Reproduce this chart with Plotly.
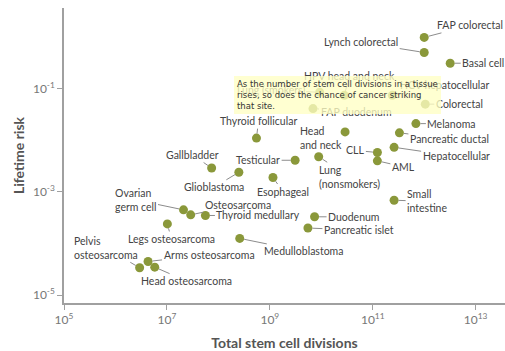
import math
import plotly.graph_objects as go

# ---- data ----
cancer_types = [
    "FAP colorectal", "Lynch colorectal", "Basal cell", "HCV hepatocellular", "Colorectal",
    "HPV head and neck", "Lung (smokers)", "FAP duodenum", "Melanoma", "Thyroid follicular",
    "Head and neck", "Pancreatic ductal", "Hepatocellular", "CLL", "AML",
    "Testicular", "Lung (nonsmokers)", "Glioblastoma", "Esophageal", "Gallbladder",
    "Small intestine", "Duodenum", "Pancreatic islet", "Medulloblastoma", "Ovarian germ cell",
    "Osteosarcoma", "Thyroid medullary", "Legs osteosarcoma", "Pelvis osteosarcoma",
    "Arms osteosarcoma", "Head osteosarcoma",
]
stem_cell_divisions = [
    1.0e12, 1.0e12, 3.2e12, 2.4e11, 1.05e12,
    2.8e10, 9.3e9, 6.9e9, 6.9e11, 5.5e8,
    2.9e10, 3.3e11, 2.6e11, 1.23e11, 1.23e11,
    3.1e9, 8.9e9, 2.5e8, 1.15e9, 7.4e7,
    2.6e11, 7.4e9, 5.5e9, 2.6e8, 2.1e7,
    2.9e7, 5.6e7, 1.02e7, 2.95e6,
    4.3e6, 5.8e6,
]
lifetime_risk = [
    0.98, 0.50, 0.31, 0.074, 0.050,
    0.074, 0.085, 0.041, 0.021, 0.011,
    0.0145, 0.0139, 0.0073, 0.0058, 0.0040,
    0.0041, 0.0048, 0.0024, 0.0019, 0.0029,
    6.9e-4, 3.3e-4, 2.0e-4, 1.26e-4, 4.5e-4,
    3.6e-4, 3.5e-4, 2.4e-4, 3.4e-5,
    4.5e-5, 3.5e-5,
]
x_tickvals = [1e5, 1e7, 1e9, 1e11, 1e13]
x_ticktext = ["10<sup>5</sup>", "10<sup>7</sup>", "10<sup>9</sup>", "10<sup>11</sup>", "10<sup>13</sup>"]
y_tickvals = [1e-5, 1e-3, 1e-1]
y_ticktext = ["10<sup>-5</sup>", "10<sup>-3</sup>", "10<sup>-1</sup>"]
note_text = ("As the number of stem cell divisions in a tissue<br>"
             "rises, so does the chance of cancer striking<br>"
             "that site.")

# ---- label layout (text, dx, dy in pixels relative to point) ----
label_layout = {
    "FAP colorectal": ("FAP colorectal", 46, -12),
    "Lynch colorectal": ("Lynch colorectal", -63, -10),
    "Basal cell": ("Basal cell", 33, 0),
    "HCV hepatocellular": ("HCV hepatocellular", 53, -10),
    "Colorectal": ("Colorectal", 34, 0),
    "HPV head and neck": ("HPV head and neck", 5, -19),
    "Lung (smokers)": ("Lung (smokers)", -49, -2),
    "FAP duodenum": ("FAP duodenum", 43, 3),
    "Melanoma": ("Melanoma", 36, 0),
    "Thyroid follicular": ("Thyroid follicular", 2, -17),
    "Head and neck": ("Head<br>and neck", -24, 6),
    "Pancreatic ductal": ("Pancreatic ductal", 50, 6),
    "Hepatocellular": ("Hepatocellular", 62, 9),
    "CLL": ("CLL", -22, -2),
    "AML": ("AML", 26, 6),
    "Testicular": ("Testicular", -37, 0),
    "Lung (nonsmokers)": ("Lung<br>(nonsmokers)", 31, 20),
    "Glioblastoma": ("Glioblastoma", -25, 15),
    "Esophageal": ("Esophageal", 10, 14),
    "Gallbladder": ("Gallbladder", -19, -13),
    "Small intestine": ("Small<br>intestine", 33, 1),
    "Duodenum": ("Duodenum", 39, 0),
    "Pancreatic islet": ("Pancreatic islet", 51, 2),
    "Medulloblastoma": ("Medulloblastoma", 64, 13),
    "Ovarian germ cell": ("Ovarian<br>germ cell", -48, -10),
    "Osteosarcoma": ("Osteosarcoma", 47, -10),
    "Thyroid medullary": ("Thyroid medullary", 53, 0),
    "Legs osteosarcoma": ("Legs osteosarcoma", 4, 15),
    "Pelvis osteosarcoma": ("Pelvis<br>osteosarcoma", -34, -20),
    "Arms osteosarcoma": ("Arms osteosarcoma", 61, -7),
    "Head osteosarcoma": ("Head osteosarcoma", 32, 14),
}

MARKER = "#8a983a"
LABEL_FONT = dict(family="Lato, 'Open Sans', sans-serif", size=10.5, color="#444")

fig = go.Figure()
fig.add_trace(go.Scatter(
    x=stem_cell_divisions, y=lifetime_risk, mode="markers",
    marker=dict(size=9, color=MARKER), text=cancer_types, hoverinfo="skip",
    showlegend=False,
))

annotations = []
for name, xv, yv in zip(cancer_types, stem_cell_divisions, lifetime_risk):
    txt, dx, dy = label_layout[name]
    annotations.append(dict(
        x=math.log10(xv), y=math.log10(yv),
        xref="x", yref="y", text=txt, showarrow=True, arrowhead=0,
        arrowwidth=1, arrowcolor="#8c8c8c", standoff=4.5, ax=dx, ay=dy,
        align="left", font=LABEL_FONT, borderpad=1,
    ))

# tooltip-like note box (drawn last, on top)
annotations.append(dict(
    xref="paper", yref="paper", x=0.3855, y=0.771, xanchor="left", yanchor="top",
    text=note_text, showarrow=False, align="left",
    font=dict(family="DejaVu Sans", size=8.5, color="#333"),
    bgcolor="rgba(255,255,196,0.78)", borderpad=3, borderwidth=0,
))

AXIS_COLOR = "#a0a0a0"
TICK_FONT = dict(family="Lato, 'Open Sans', sans-serif", size=12, color="#777")
TITLE_FONT = dict(family="Lato, 'Open Sans', sans-serif", size=14, color="#555", weight="bold")

fig.update_layout(
    width=505, height=351,
    margin=dict(l=64, r=0, t=8, b=48, autoexpand=False),
    plot_bgcolor="white", paper_bgcolor="white",
    hovermode=False,
    annotations=annotations,
    xaxis=dict(
        type="log", range=[5, 13.57], tickvals=x_tickvals, ticktext=x_ticktext,
        showgrid=False, zeroline=False, showline=True, linecolor=AXIS_COLOR, linewidth=1.5,
        ticks="outside", ticklen=5, tickcolor=AXIS_COLOR, tickwidth=1.2,
        tickfont=TICK_FONT, automargin=False,
        title=dict(text="Total stem cell divisions", font=TITLE_FONT, standoff=15),
    ),
    yaxis=dict(
        type="log", range=[-5.15, 0.56], tickvals=y_tickvals, ticktext=y_ticktext,
        showgrid=False, zeroline=False, showline=True, linecolor=AXIS_COLOR, linewidth=1.5,
        ticks="outside", ticklen=5, tickcolor=AXIS_COLOR, tickwidth=1.2,
        tickfont=TICK_FONT, automargin=False,
        title=dict(text="Lifetime risk", font=TITLE_FONT, standoff=5),
    ),
)

fig.write_html("out.html", config={"displayModeBar": False},
               post_script="document.body.style.margin='0px';")
